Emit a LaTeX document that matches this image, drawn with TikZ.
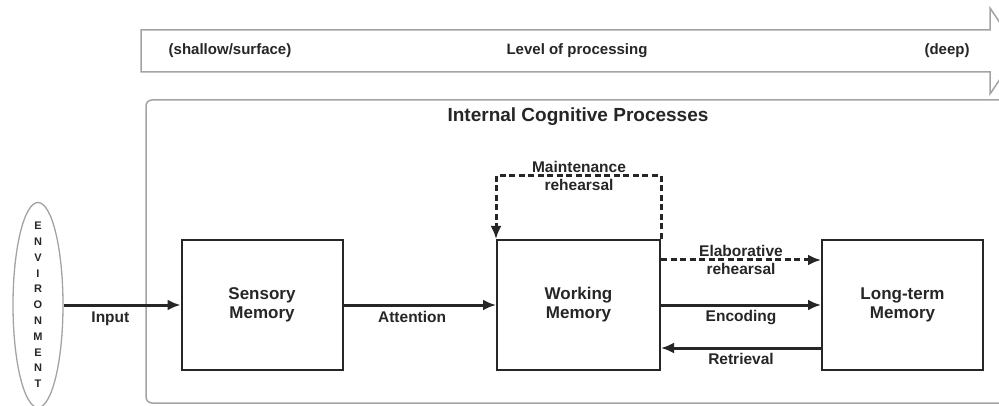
\documentclass[tikz,border=0pt]{standalone}
\usepackage{fontspec}
\setmainfont{Liberation Sans}
\usepackage{xcolor}
\definecolor{inkgray}{HTML}{262626}
\definecolor{framegray}{HTML}{A3A3A3}
\usetikzlibrary{shapes.geometric, arrows.meta, positioning, calc}

\begin{document}
\begin{tikzpicture}[x=1pt, y=-1pt,
    memory/.style={draw=inkgray, line width=2pt, minimum width=161pt, minimum height=130pt,
      align=center, text=inkgray, font=\fontsize{17}{19}\selectfont\bfseries},
    flow/.style={draw=inkgray, line width=3pt, -{Latex[length=13pt,width=11pt]}},
    dashflow/.style={flow, dash pattern=on 6pt off 3.5pt},
    tag/.style={text=inkgray, inner sep=1pt, align=center, font=\fontsize{15.5}{18}\selectfont\bfseries},
    leveltag/.style={text=inkgray, inner sep=0pt, font=\fontsize{15}{17}\selectfont\bfseries},
  ]
  \useasboundingbox (0,0) rectangle (999,406);

  % level of processing band
  \draw[framegray, line width=1.5pt, fill=white]
    (141,30) -- (990,30) -- (990,8) -- (1019,51) -- (990,94) -- (990,72) -- (141,72) -- cycle;
  \node[leveltag] (shallow) at (230,51) {(shallow/surface)};
  \node[leveltag] (level) at (577,51) {Level of processing};
  \node[leveltag] (deep) at (947,51) {(deep)};

  % internal processes frame
  \draw[framegray, line width=1.5pt, rounded corners=6pt] (146,100) rectangle (1012,403);
  \node[text=inkgray, font=\fontsize{19}{21}\selectfont\bfseries] (title) at (578,117) {Internal Cognitive Processes};

  \node[ellipse, draw=framegray, line width=1.3pt, minimum width=50pt, minimum height=205pt] (env) at (38,305) {};
  \node[text=inkgray, align=center, inner sep=0pt, font=\fontsize{11}{15.8}\selectfont\bfseries] (envtext) at (env.center)
    {E\\N\\V\\I\\R\\O\\N\\M\\E\\N\\T};

  \node[memory] (sm) at (262,305) {Sensory\\Memory};
  \node[memory, minimum width=163pt] (wm) at (578.5,305) {Working\\Memory};
  \node[memory] (ltm) at (902.5,305) {Long-term\\Memory};

  \draw[flow] (env.east) -- node[tag, below=4pt, pos=0.4] (inputlbl) {Input} (sm.west);
  \draw[flow] (sm.east) -- node[tag, below=4pt, pos=0.45] (attnlbl) {Attention} (wm.west);

  \coordinate (looptop) at (579,176);
  \draw[dashflow] (wm.north east) |- (looptop) -| (wm.north west);
  \node[tag] (maintlbl) at (looptop) {Maintenance\\rehearsal};

  \draw[dashflow] ([yshift=45pt]wm.east) -- node[tag] (elablbl) {Elaborative\\rehearsal} ([yshift=45pt]ltm.west);
  \draw[flow] (wm.east) -- node[tag, below=3pt] (enclbl) {Encoding} (ltm.west);
  \draw[flow] ([yshift=-43pt]ltm.west) -- node[tag, below=3pt] (retrlbl) {Retrieval} ([yshift=-43pt]wm.east);
\end{tikzpicture}
\end{document}
